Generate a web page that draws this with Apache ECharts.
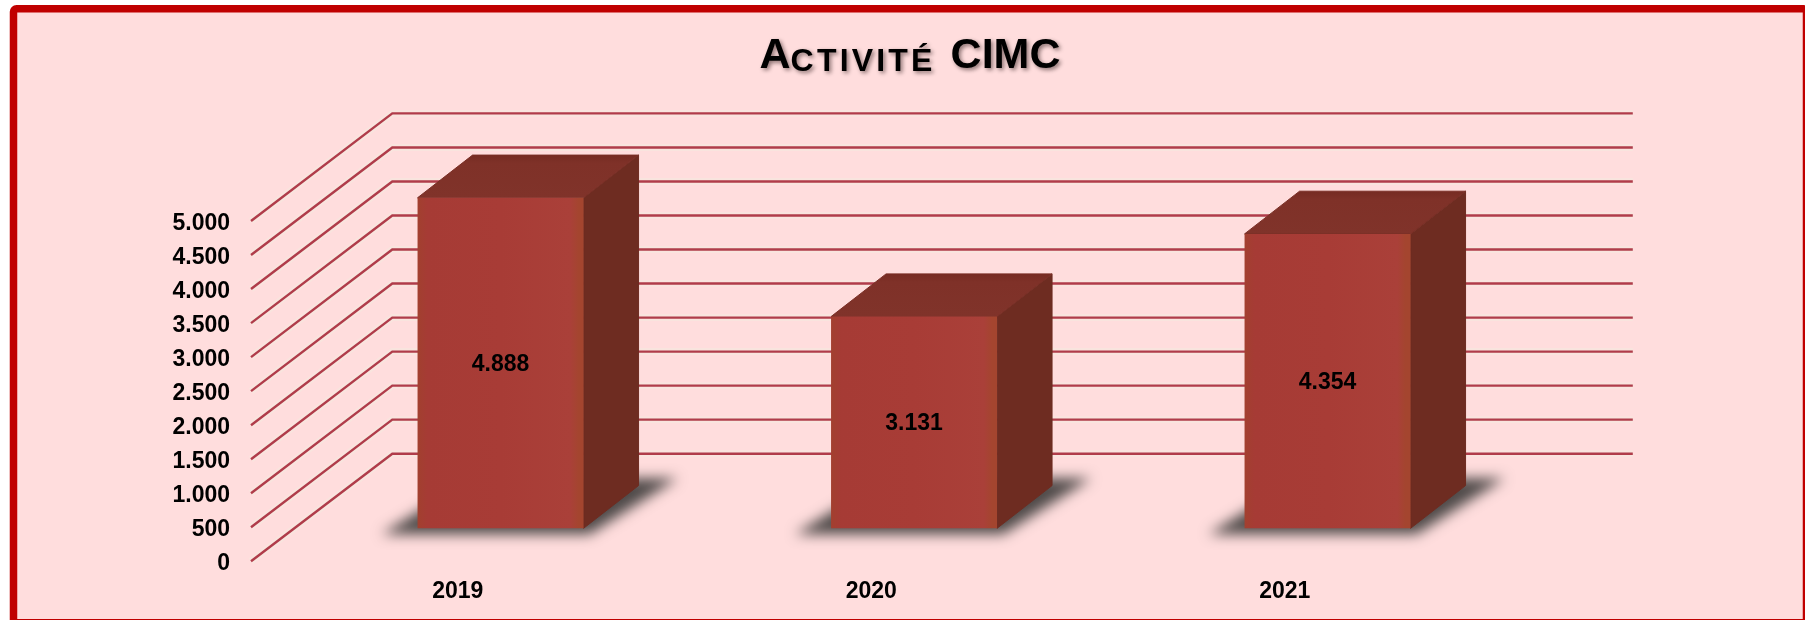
<!DOCTYPE html>
<html>
<head>
<meta charset="utf-8">
<style>html,body{margin:0;padding:0;background:#fff}#c{width:1805px;height:620px}</style>
<script src="https://cdn.jsdelivr.net/npm/echarts@6/dist/echarts.min.js"></script>
</head>
<body>
<div id="c"></div>
<script>
const years = ['2019', '2020', '2021'];
const activite = [4888, 3131, 4354];
const yTicks = [0, 500, 1000, 1500, 2000, 2500, 3000, 3500, 4000, 4500, 5000];

const fmt = v => String(v).replace(/\B(?=(\d{3})+$)/g, '.');
const FONT = '"Liberation Sans", Arial, sans-serif';
const WALL = { dx: 141.3, dy: 107.6 };       // floor depth of the pseudo-3D box
const BAR = { ox: 42.8, oy: 33, w: 166, dx: 55, dy: 42.7, scale: 0.9935 };
const OFF = 3000;                            // soft floor shadow: shape off canvas, only its blur lands here

function renderGrid(params, api) {
  const cs = params.coordSys;
  const y = api.coord([0, api.value(1)])[1];
  const pts = [[cs.x, y], [cs.x + WALL.dx, y - WALL.dy], [cs.x + cs.width + WALL.dx, y - WALL.dy]];
  return {
    type: 'group',
    children: [
      { type: 'polyline', shape: { points: pts }, style: { fill: null, stroke: '#f7e6df', lineWidth: 7, opacity: 0.8 } },
      { type: 'polyline', shape: { points: pts }, style: { fill: null, stroke: '#b03c4a', lineWidth: 2.4 } }
    ]
  };
}

function renderBar(params, api) {
  const top = api.coord([api.value(0), api.value(1)]);
  const base = api.coord([api.value(0), 0]);
  const x0 = top[0] + BAR.ox - BAR.w / 2, x1 = x0 + BAR.w;
  const yb = base[1] - BAR.oy, yt = yb - (base[1] - top[1]) * BAR.scale;
  const d = BAR, poly = (points, style) => ({ type: 'polygon', shape: { points }, style });
  const sh = [[x0 - 36, yb + 6], [x1 + 6, yb + 6], [x1 + 94, yb - 50], [x0 + 55, yb - 50]];
  return {
    type: 'group',
    children: [
      poly(sh.map(p => [p[0] - OFF, p[1]]),
        { fill: '#000', shadowColor: '#4f4a49', shadowBlur: 13, shadowOffsetX: OFF }),
      poly([[x1, yt], [x1 + d.dx, yt - d.dy], [x1 + d.dx, yb - d.dy], [x1, yb]],
        { fill: '#6e2c21', stroke: '#6e2c21', lineWidth: 1 }),
      poly([[x0, yt], [x0 + d.dx, yt - d.dy], [x1 + d.dx, yt - d.dy], [x1, yt]],
        { fill: { type: 'linear', x: 0, y: 0, x2: 0, y2: 1, colorStops: [
            { offset: 0, color: '#752b22' }, { offset: 0.2, color: '#7f3128' }, { offset: 1, color: '#80332a' }] },
          stroke: '#7a2f26', lineWidth: 1 }),
      { type: 'rect', shape: { x: x0, y: yt, width: BAR.w, height: yb - yt },
        style: { fill: { type: 'linear', x: 0, y: 0, x2: 1, y2: 0, colorStops: [
          { offset: 0, color: '#a2402f' }, { offset: 0.06, color: '#a63b35' }, { offset: 0.5, color: '#a83c36' },
          { offset: 0.92, color: '#aa4039' }, { offset: 0.97, color: '#a4452f' }, { offset: 1, color: '#a4452f' }] } } },
      { type: 'text', x: (x0 + x1) / 2, y: (yt + yb) / 2 + 1.5,
        style: { text: fmt(api.value(1)), fill: '#000', font: 'bold 23px ' + FONT, align: 'center', verticalAlign: 'middle' } }
    ]
  };
}

const shadow = { textShadowColor: 'rgba(60,40,40,0.6)', textShadowBlur: 4, textShadowOffsetX: 2, textShadowOffsetY: 2 };
const chart = echarts.init(document.getElementById('c'), null, { renderer: 'canvas', width: 1805, height: 620 });
chart.setOption({
  animation: false,
  backgroundColor: '#ffffff',
  graphic: [{
    type: 'rect', z: -10,
    shape: { x: 13.5, y: 8.75, width: 1793, height: 614, r: 3 },
    style: { fill: '#ffdddd', stroke: '#c00000', lineWidth: 7.5 }
  }],
  title: {
    text: '{b|A}' + 'CTIVITÉ'.split('').map(c => '{s|' + c + '}').join('') + '{g| }{b|CIMC}',
    left: 905, top: 30, textAlign: 'center',
    textStyle: {
      rich: {
        b: Object.assign({ fontFamily: FONT, fontWeight: 'bold', fontSize: 43, color: '#000' }, shadow),
        s: Object.assign({ fontFamily: FONT, fontWeight: 'bold', fontSize: 32, color: '#000', verticalAlign: 'bottom', padding: [0, 3.2, 0, 0] }, shadow),
        g: { fontFamily: FONT, fontWeight: 'bold', fontSize: 43, padding: [0, 3, 0, 0] }
      }
    }
  },
  grid: { left: 251, top: 221, width: 1240.5, height: 340.3 },
  xAxis: {
    type: 'category', data: years,
    axisLine: { show: false }, axisTick: { show: false },
    axisLabel: { color: '#000', fontFamily: FONT, fontWeight: 'bold', fontSize: 23, margin: 19 }
  },
  yAxis: {
    type: 'value', min: 0, max: 5000, interval: 500,
    axisLine: { show: false }, axisTick: { show: false }, splitLine: { show: false },
    axisLabel: { color: '#000', fontFamily: FONT, fontWeight: 'bold', fontSize: 23, margin: 21, lineHeight: 29, verticalAlign: 'top', padding: [-12, 0, 0, 0], formatter: fmt }
  },
  series: [
    { type: 'custom', z: 1, silent: true, clip: false, renderItem: renderGrid,
      encode: { x: 0, y: 1 }, data: yTicks.map(v => [0, v]) },
    { type: 'custom', z: 2, silent: true, clip: false, renderItem: renderBar,
      encode: { x: 0, y: 1 }, data: activite.map((v, i) => [i, v]) }
  ]
});
</script>
</body>
</html>
